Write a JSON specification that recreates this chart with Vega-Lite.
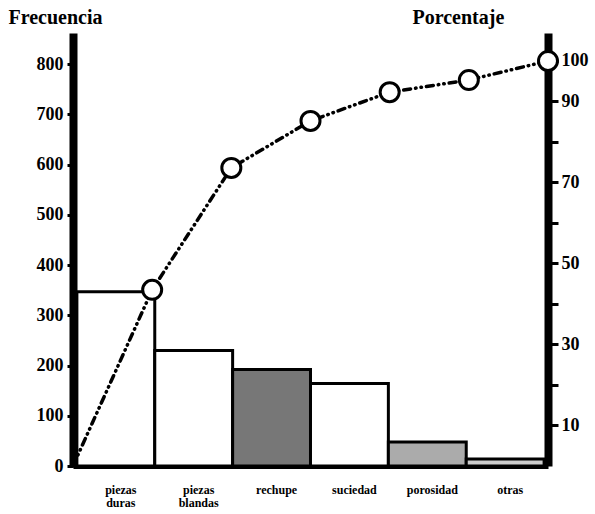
{
  "$schema": "https://vega.github.io/schema/vega-lite/v6.json",
  "width": 475,
  "height": 433,
  "autosize": {"type": "none"},
  "padding": {"left": 73, "top": 33, "right": 47, "bottom": 48},
  "background": "white",
  "config": {
    "view": {"stroke": null},
    "font": "Liberation Serif",
    "axis": {
      "labelFont": "Liberation Serif",
      "titleFont": "Liberation Serif",
      "labelColor": "black",
      "titleColor": "black",
      "domainColor": "black",
      "tickColor": "black",
      "grid": false
    }
  },
  "datasets": {
    "causas": [
      {"causa": "piezas duras", "frecuencia": 347},
      {"causa": "piezas blandas", "frecuencia": 230},
      {"causa": "rechupe", "frecuencia": 192},
      {"causa": "suciedad", "frecuencia": 164},
      {"causa": "porosidad", "frecuencia": 48},
      {"causa": "otras", "frecuencia": 14}
    ],
    "acumulado": [
      {"punto": "origen", "porcentaje": 0},
      {"punto": "piezas duras", "porcentaje": 43.5},
      {"punto": "piezas blandas", "porcentaje": 73.6},
      {"punto": "rechupe", "porcentaje": 85.2},
      {"punto": "suciedad", "porcentaje": 92.3},
      {"punto": "porosidad", "porcentaje": 95.3},
      {"punto": "otras", "porcentaje": 100}
    ]
  },
  "layer": [
    {
      "data": {"name": "causas"},
      "mark": {"type": "bar", "stroke": "black", "strokeWidth": 3},
      "encoding": {
        "x": {
          "field": "causa",
          "type": "nominal",
          "sort": null,
          "scale": {"paddingInner": 0, "paddingOuter": 0.05},
          "axis": {
            "title": null,
            "labelAngle": 0,
            "labelExpr": "split(datum.label, ' ')",
            "labelFontSize": 12,
            "labelFontWeight": "bold",
            "labelLineHeight": 13,
            "labelBaseline": "top",
            "labelPadding": 18,
            "labelOffset": 5,
            "labelOverlap": false,
            "ticks": false,
            "tickSize": 0,
            "domainWidth": 5,
            "zindex": 0
          }
        },
        "y": {
          "field": "frecuencia",
          "type": "quantitative",
          "scale": {"domain": [0, 862], "nice": false},
          "axis": {
            "title": "Frecuencia",
            "titleAngle": 0,
            "titleAlign": "left",
            "titleBaseline": "alphabetic",
            "titleX": -65,
            "titleY": -10,
            "titleFontSize": 20,
            "titleFontWeight": "bold",
            "values": [0, 100, 200, 300, 400, 500, 600, 700, 800],
            "labelFontSize": 18,
            "labelFontWeight": "bold",
            "tickSize": 6,
            "tickWidth": 3,
            "labelPadding": 4,
            "domainWidth": 8,
            "zindex": 0
          }
        },
        "fill": {
          "field": "causa",
          "type": "nominal",
          "sort": null,
          "scale": {
            "domain": ["piezas duras", "piezas blandas", "rechupe", "suciedad", "porosidad", "otras"],
            "range": ["white", "white", "#777777", "white", "#ababab", "#cccccc"]
          },
          "legend": null
        }
      }
    },
    {
      "data": {"name": "acumulado"},
      "encoding": {
        "x": {
          "field": "punto",
          "type": "ordinal",
          "sort": null,
          "scale": {"type": "point", "padding": 0},
          "axis": null
        },
        "y": {
          "field": "porcentaje",
          "type": "quantitative",
          "scale": {"domain": [0, 106.9], "nice": false},
          "axis": {
            "orient": "right",
            "title": "Porcentaje",
            "titleAngle": 0,
            "titleAlign": "left",
            "titleBaseline": "alphabetic",
            "titleX": -136,
            "titleY": -10,
            "titleFontSize": 20,
            "titleFontWeight": "bold",
            "values": [10, 20, 30, 40, 50, 60, 70, 80, 90, 100],
            "labelExpr": "indexof([10, 30, 50, 70, 90, 100], datum.value) >= 0 ? datum.label : ''",
            "labelFontSize": 18,
            "labelFontWeight": "bold",
            "tickSize": 10,
            "tickWidth": 3,
            "labelPadding": 3,
            "domainWidth": 8,
            "zindex": 0
          }
        }
      },
      "layer": [
        {
          "mark": {
            "type": "line",
            "color": "black",
            "strokeWidth": 3.5,
            "strokeCap": "round",
            "strokeDash": [7, 5, 0.5, 5, 0.5, 5]
          }
        },
        {
          "transform": [{"filter": "datum.porcentaje > 0"}],
          "mark": {
            "type": "point",
            "shape": "circle",
            "filled": true,
            "fill": "white",
            "stroke": "black",
            "strokeWidth": 3,
            "size": 361,
            "opacity": 1
          }
        }
      ]
    }
  ],
  "resolve": {"scale": {"x": "independent", "y": "independent", "fill": "independent"}}
}
